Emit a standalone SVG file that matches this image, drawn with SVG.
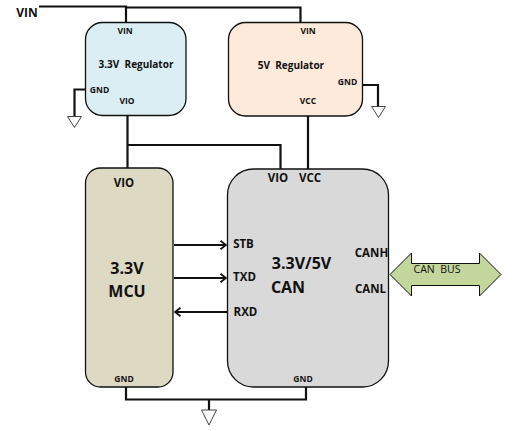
<svg xmlns="http://www.w3.org/2000/svg" width="522" height="431" viewBox="0 0 522 431">
<style>
text{font-family:"Open Sans","Liberation Sans",Arial,sans-serif;font-weight:700;fill:#111;text-anchor:middle;white-space:pre}
.s{font-size:8.5px}
.m{font-size:10px}
.l{font-size:11.5px}
.x{font-size:16px}
.box{stroke:#111;stroke-width:1.3}
.w{fill:none;stroke:#111;stroke-width:2.2}
.g{fill:#fff;stroke:#444;stroke-width:1}
</style>
<defs>
<marker id="a" markerWidth="8" markerHeight="10" refX="7" refY="5" orient="auto" markerUnits="userSpaceOnUse"><path d="M1.500 0.800L7 5L1.500 9.200" fill="none" stroke="#111" stroke-width="1.800"/></marker>
</defs>
<rect width="522" height="431" fill="#fff"/>
<g id="connectors">
<path class="w" d="M39 6.500H126V22"/>
<path class="w" d="M126 7.500H300.500V22"/>
<path class="w" d="M85 89.500H74.500V116"/>
<path class="w" d="M362 85H378V106"/>
<path class="w" d="M127.500 116V168"/>
<path class="w" d="M128 145H280.500V169"/>
<path class="w" d="M308 115V169"/>
<path class="w" d="M174 245H226" marker-end="url(#a)"/>
<path class="w" d="M174 278H226" marker-end="url(#a)"/>
<path class="w" d="M227 312H175" marker-end="url(#a)"/>
<path class="w" d="M126 387V399.500H306V387"/>
<path class="w" d="M209 399.500V410"/>
<path class="g" d="M67.500 116.500H81.500L74.500 127.500Z"/>
<path class="g" d="M371.500 106.500H385.500L378.500 117.500Z"/>
<path class="g" d="M201.500 410H216.500L209 425Z"/>
</g>
<g id="reg33">
<rect class="box" x="85.500" y="22.500" width="100.500" height="93" rx="17" fill="#dbeef4"/>
<text class="s" x="125" y="34">VIN</text>
<text class="m" x="136" y="67.500">3.3V  Regulator</text>
<text class="s" x="99.500" y="93">GND</text>
<text class="s" x="127" y="104">VIO</text>
</g>
<g id="reg5">
<rect class="box" x="228.500" y="22.500" width="134" height="93.500" rx="17" fill="#fdeada"/>
<text class="s" x="308" y="34">VIN</text>
<text class="m" x="291" y="68.500">5V  Regulator</text>
<text class="s" x="347.500" y="85">GND</text>
<text class="s" x="308" y="104">VCC</text>
</g>
<g id="mcu">
<rect class="box" x="85.500" y="168" width="87.500" height="219" rx="15" fill="#ddd9c3"/>
<text class="l" x="124" y="187">VIO</text>
<text class="x" x="127" y="274">3.3V</text>
<text class="x" x="127" y="297">MCU</text>
<text class="s" x="124" y="382">GND</text>
</g>
<g id="can">
<rect class="box" x="227.500" y="169" width="161" height="218" rx="26" fill="#d9d9d9"/>
<text class="l" x="278" y="182">VIO</text>
<text class="l" x="310" y="182">VCC</text>
<text class="l" x="243.500" y="248">STB</text>
<text class="l" x="244.500" y="281">TXD</text>
<text class="l" x="245.500" y="316">RXD</text>
<text class="x" x="301.500" y="269">3.3V/5V</text>
<text class="x" x="288" y="293">CAN</text>
<text class="l" x="371.500" y="257">CANH</text>
<text class="l" x="370.500" y="293">CANL</text>
<text class="s" x="303" y="382">GND</text>
</g>
<g id="canbus">
<path d="M390 274.500L411.500 253V263.500H479.500V253L501 274.500L479.500 296V285.500H411.500V296Z" fill="#c3d69b" stroke="#111" stroke-width="1"/>
<text x="437" y="273" style="font-size:10.500px;font-weight:400">CAN  BUS</text>
</g>
<g id="vin">
<text x="27" y="17" style="font-size:12px">VIN</text>
</g>
</svg>
